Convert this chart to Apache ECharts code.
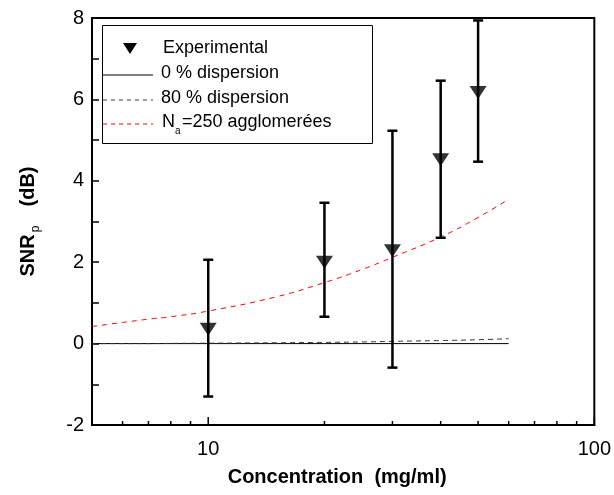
<!DOCTYPE html>
<html>
<head>
<meta charset="utf-8">
<script src="https://cdn.jsdelivr.net/npm/echarts@6/dist/echarts.min.js"></script>
<style>
html,body{margin:0;padding:0;background:#fff;}
#chart{width:614px;height:495px;}
</style>
</head>
<body>
<div id="chart"></div>
<script>
// ---- data ----
const EXP_X = [10, 20, 30, 40, 50];
const EXP_Y = [0.35, 2.0, 2.28, 4.52, 6.17];
const EXP_LO = [-1.30, 0.66, -0.59, 2.60, 4.47];
const EXP_HI = [2.06, 3.46, 5.23, 6.46, 7.94];

const MODEL_X = [5, 6, 7, 8, 10, 15, 20, 25, 30, 40, 50, 60];
const DISP0_Y = [0, 0, 0, 0, 0, 0, 0, 0, 0, 0, 0, 0];
const DISP80_Y = [0, 0, 0, 0.005, 0.01, 0.02, 0.03, 0.04, 0.055, 0.075, 0.095, 0.12];
const AGGLO_Y = [0.42, 0.52, 0.60, 0.66, 0.80, 1.15, 1.50, 1.82, 2.12, 2.62, 3.10, 3.55];

const X_MAJOR_TICKS = [10, 100];
const X_MINOR_TICKS = [6, 7, 8, 9, 20, 30, 40, 50, 60, 70, 80, 90];
const X_LABELS = [10, 100];

const FONT = 'Liberation Sans, Arial, sans-serif';

function pairs(xs, ys) { return xs.map((x, i) => [x, ys[i]]); }

const chart = echarts.init(document.getElementById('chart'), null, {renderer: 'canvas'});

function tickRender(len) {
  return function (params, api) {
    const p = api.coord([api.value(0), api.value(1)]);
    return {
      type: 'line',
      shape: {x1: p[0], y1: p[1], x2: p[0], y2: p[1] - len},
      style: {stroke: '#000', lineWidth: 1.5}
    };
  };
}

const option = {
  backgroundColor: '#fff',
  animation: false,
  grid: {
    left: 92, right: 19, top: 18, bottom: 70,
    show: true, borderColor: '#000', borderWidth: 2, backgroundColor: 'transparent'
  },
  xAxis: {
    type: 'log', logBase: 10, min: 5, max: 100,
    axisLine: {show: true, onZero: false, lineStyle: {color: '#000', width: 2}},
    axisTick: {show: false},
    minorTick: {show: false},
    splitLine: {show: false},
    axisLabel: {
      color: '#000', fontSize: 20, fontFamily: FONT, margin: 14,
      showMinLabel: false,
      formatter: function (v) {
        for (const l of X_LABELS) { if (Math.abs(v - l) < 1e-6 * l) return String(l); }
        return '';
      }
    },
    name: 'Concentration  (mg/ml)',
    nameLocation: 'middle', nameGap: 42,
    nameTextStyle: {color: '#000', fontSize: 20, fontWeight: 'bold', fontFamily: FONT, padding: [0, 12, 0, 0]}
  },
  yAxis: {
    type: 'value', min: -2, max: 8, interval: 1,
    axisLine: {show: true, lineStyle: {color: '#000', width: 2}},
    axisTick: {show: true, inside: true, length: 7, lineStyle: {color: '#000', width: 1.5}},
    splitLine: {show: false},
    axisLabel: {
      color: '#000', fontSize: 20, fontFamily: FONT, margin: 8,
      formatter: function (v) { return (Math.round(v) % 2 === 0) ? String(v) : ''; }
    },
    name: '{a|SNR}{b|p}{a|  (dB)}',
    nameLocation: 'middle', nameGap: 50,
    nameTextStyle: {
      color: '#000', fontFamily: FONT,
      rich: {
        a: {fontSize: 20, fontWeight: 'bold', fontFamily: FONT, color: '#000'},
        b: {fontSize: 12, fontFamily: FONT, color: '#000', padding: [16, 8, 0, 2]}
      }
    }
  },
  series: [
    {
      name: '0 % dispersion', type: 'line', data: pairs(MODEL_X, DISP0_Y),
      showSymbol: false, smooth: false, z: 2,
      lineStyle: {color: '#000', width: 1}
    },
    {
      name: '80 % dispersion', type: 'line', data: pairs(MODEL_X, DISP80_Y),
      showSymbol: false, smooth: true, z: 2,
      lineStyle: {color: '#333', width: 1, type: [5, 4]}
    },
    {
      name: 'Na=250 agglomerées', type: 'line', data: pairs(MODEL_X, AGGLO_Y),
      showSymbol: false, smooth: true, z: 2,
      lineStyle: {color: '#ff0000', width: 1, type: [5, 5]}
    },
    {
      name: 'errorbars', type: 'custom', z: 3,
      data: EXP_X.map((x, i) => [x, EXP_LO[i], EXP_HI[i]]),
      encode: {x: 0, y: [1, 2]},
      renderItem: function (params, api) {
        const x = api.value(0);
        const pl = api.coord([x, api.value(1)]);
        const ph = api.coord([x, api.value(2)]);
        const w = 5;
        const st = {stroke: '#000', lineWidth: 2.5};
        return {
          type: 'group',
          children: [
            {type: 'line', shape: {x1: ph[0], y1: ph[1], x2: pl[0], y2: pl[1]}, style: st},
            {type: 'line', shape: {x1: ph[0] - w, y1: ph[1], x2: ph[0] + w, y2: ph[1]}, style: st},
            {type: 'line', shape: {x1: pl[0] - w, y1: pl[1], x2: pl[0] + w, y2: pl[1]}, style: st}
          ]
        };
      }
    },
    {
      name: 'Experimental', type: 'scatter', data: pairs(EXP_X, EXP_Y), z: 4,
      symbol: 'path://M0,0L16,0L8,12Z', symbolSize: [17, 13],
      itemStyle: {color: '#000'}
    },
    {
      name: 'xminor', type: 'custom', z: 5, silent: true,
      data: X_MINOR_TICKS.map(v => [v, -2]),
      renderItem: tickRender(4)
    },
    {
      name: 'xmajor', type: 'custom', z: 5, silent: true,
      data: X_MAJOR_TICKS.map(v => [v, -2]),
      renderItem: tickRender(8)
    }
  ],
  graphic: [
    {type: 'rect', left: 102, top: 25, z: 100,
     shape: {x: 0, y: 0, width: 270, height: 118},
     style: {fill: '#fff', stroke: '#000', lineWidth: 1}},
    {type: 'polygon', z: 101, shape: {points: [[123, 43], [137, 43], [130, 54]]}, style: {fill: '#000'}},
    {type: 'text', z: 101, x: 163, y: 48, style: {text: 'Experimental', font: '18px ' + FONT, fill: '#000', verticalAlign: 'middle'}},
    {type: 'line', z: 101, shape: {x1: 103, y1: 75, x2: 153, y2: 75}, style: {stroke: '#000', lineWidth: 1}},
    {type: 'text', z: 101, x: 161, y: 73, style: {text: '0 % dispersion', font: '18px ' + FONT, fill: '#000', verticalAlign: 'middle'}},
    {type: 'line', z: 101, shape: {x1: 103, y1: 100, x2: 153, y2: 100}, style: {stroke: '#444', lineWidth: 1, lineDash: [4, 4]}},
    {type: 'text', z: 101, x: 161, y: 98, style: {text: '80 % dispersion', font: '18px ' + FONT, fill: '#000', verticalAlign: 'middle'}},
    {type: 'line', z: 101, shape: {x1: 103, y1: 124, x2: 153, y2: 124}, style: {stroke: '#ff0000', lineWidth: 1, lineDash: [4, 4]}},
    {type: 'text', z: 101, x: 162, y: 122, style: {text: 'N', font: '18px ' + FONT, fill: '#000', verticalAlign: 'middle'}},
    {type: 'text', z: 101, x: 175, y: 131, style: {text: 'a', font: '10px ' + FONT, fill: '#000', verticalAlign: 'middle'}},
    {type: 'text', z: 101, x: 182, y: 122, style: {text: '=250 agglomerées', font: '18px ' + FONT, fill: '#000', verticalAlign: 'middle'}}
  ]
};

chart.setOption(option);
</script>
</body>
</html>
